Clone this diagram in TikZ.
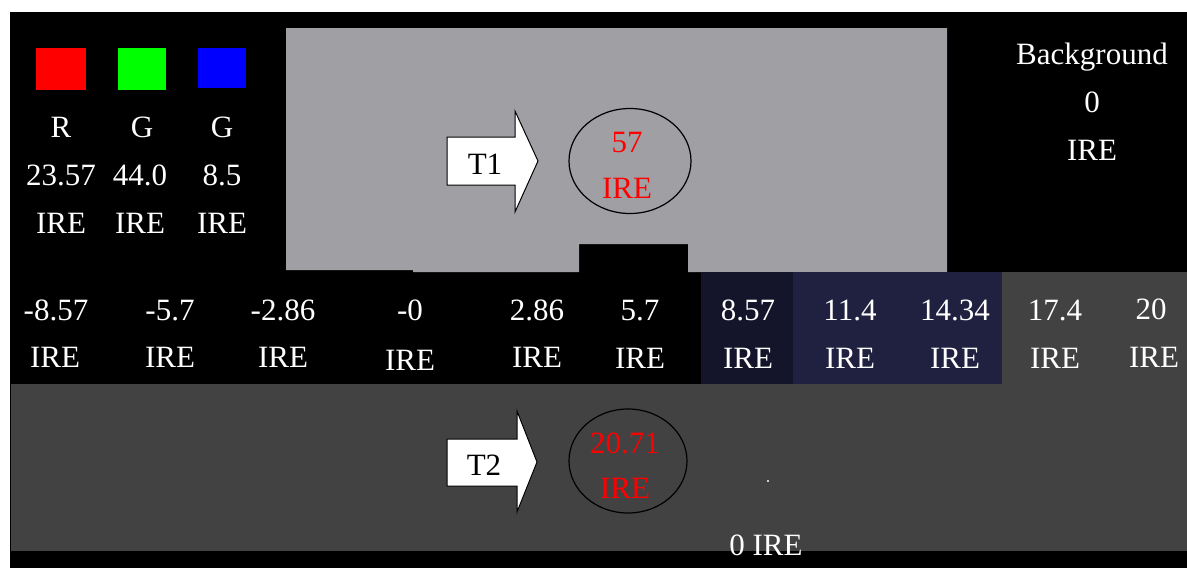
\documentclass[tikz,border=0pt]{standalone}
\usepackage{fontspec}
\setmainfont{Liberation Serif}
\usetikzlibrary{shapes.geometric}
\definecolor{boxgray}{RGB}{160,160,164}
\definecolor{darkgray2}{RGB}{66,66,66}
\definecolor{navy2}{RGB}{32,32,64}
\definecolor{dither}{RGB}{20,20,42}
\definecolor{swgreen}{RGB}{0,255,0}
\definecolor{swblue}{RGB}{0,0,255}
\definecolor{swred}{RGB}{255,0,0}
\tikzset{
  lbl/.style={text=white, font=\fontsize{31}{31}\selectfont, inner sep=0pt, anchor=base},
  redlbl/.style={lbl, text=red},
  blklbl/.style={lbl, text=black},
  swatch/.style={draw=none, inner sep=0pt},
  tarrow/.style={fill=white, draw=black, line width=1pt, line join=miter},
  ring/.style={ellipse, draw=black, line width=1.2pt, inner sep=0pt}
}
\begin{document}
\begin{tikzpicture}[x=1pt,y=-1pt]
\useasboundingbox (0,0) rectangle (1187,568);
\fill[white] (0,0) rectangle (1187,568);
\fill[black] (10,12) rectangle (1187,568);
% light gray box with notch
\fill[boxgray] (286,28) -- (947,28) -- (947,272) -- (688,272) -- (688,244) -- (579,244) -- (579,272) -- (413,272) -- (413,270) -- (286,270) -- cycle;
% strip backgrounds
\fill[dither] (701,272) rectangle (793,384);
\fill[navy2] (793,272) rectangle (1002,384);
\fill[darkgray2] (1002,272) rectangle (1187,384);
% bottom gray area
\fill[darkgray2] (11,384) rectangle (1187,551);

% swatches
\node[swatch, fill=swred, minimum width=50pt, minimum height=42pt] (sr) at (61,69) {};
\node[swatch, fill=swgreen, minimum width=48pt, minimum height=42pt] (sg) at (142,69) {};
\node[swatch, fill=swblue, minimum width=48pt, minimum height=40pt] (sb) at (222,68) {};
\node[lbl] (lr) at (61,137) {R};
\node[lbl] (lg) at (142,137) {G};
\node[lbl] (lb) at (222,137) {G};
\node[lbl] (vr) at (61,185) {23.57};
\node[lbl] (vg) at (140,185) {44.0};
\node[lbl] (vb) at (222,185) {8.5};
\node[lbl] (ur) at (61,233) {IRE};
\node[lbl] (ug) at (140,233) {IRE};
\node[lbl] (ub) at (222,233) {IRE};

% background label
\node[lbl] (bg) at (1092,64) {Background};
\node[lbl] (bgv) at (1092,112) {0};
\node[lbl] (bgu) at (1092,160) {IRE};

% T1 arrow and ring
\draw[tarrow] (447,137) -- (515,137) -- (515,111) -- (538,161) -- (515,212) -- (515,185) -- (447,185) -- cycle;
\node[blklbl] (t1) at (485,174) {T1};
\node[ring, minimum width=122pt, minimum height=105pt] (e1) at (630,161) {};
\node[redlbl] (e1v) at (627,152) {57};
\node[redlbl] (e1u) at (627,198) {IRE};

% strip labels
\node[lbl] (s1) at (56,320) {-8.57};
\node[lbl] (s2) at (170,320) {-5.7};
\node[lbl] (s3) at (283,320) {-2.86};
\node[lbl] (s4) at (410,320) {-0};
\node[lbl] (s5) at (537,320) {2.86};
\node[lbl] (s6) at (640,320) {5.7};
\node[lbl] (s7) at (748,320) {8.57};
\node[lbl] (s8) at (850,320) {11.4};
\node[lbl] (s9) at (955,320) {14.34};
\node[lbl] (s10) at (1055,320) {17.4};
\node[lbl] (s11) at (1151,319) {20};
\node[lbl] (u1) at (55,367) {IRE};
\node[lbl] (u2) at (170,367) {IRE};
\node[lbl] (u3) at (283,367) {IRE};
\node[lbl] (u4) at (410,370) {IRE};
\node[lbl] (u5) at (537,367) {IRE};
\node[lbl] (u6) at (640,368) {IRE};
\node[lbl] (u7) at (748,368) {IRE};
\node[lbl] (u8) at (850,368) {IRE};
\node[lbl] (u9) at (955,368) {IRE};
\node[lbl] (u10) at (1055,368) {IRE};
\node[lbl] (u11) at (1154,367) {IRE};

% T2 arrow and ring
\draw[tarrow] (447,439) -- (517,439) -- (517,411) -- (537,462) -- (517,512) -- (517,486) -- (447,486) -- cycle;
\node[blklbl] (t2) at (484,475) {T2};
\node[ring, minimum width=118pt, minimum height=104pt] (e2) at (628,461) {};
\node[redlbl] (e2v) at (625,453) {20.71};
\node[redlbl] (e2u) at (625,498) {IRE};
\fill[white] (768,481) circle (1.2pt);
\node[lbl] (zero) at (766,555) {0 IRE};
\end{tikzpicture}
\end{document}
